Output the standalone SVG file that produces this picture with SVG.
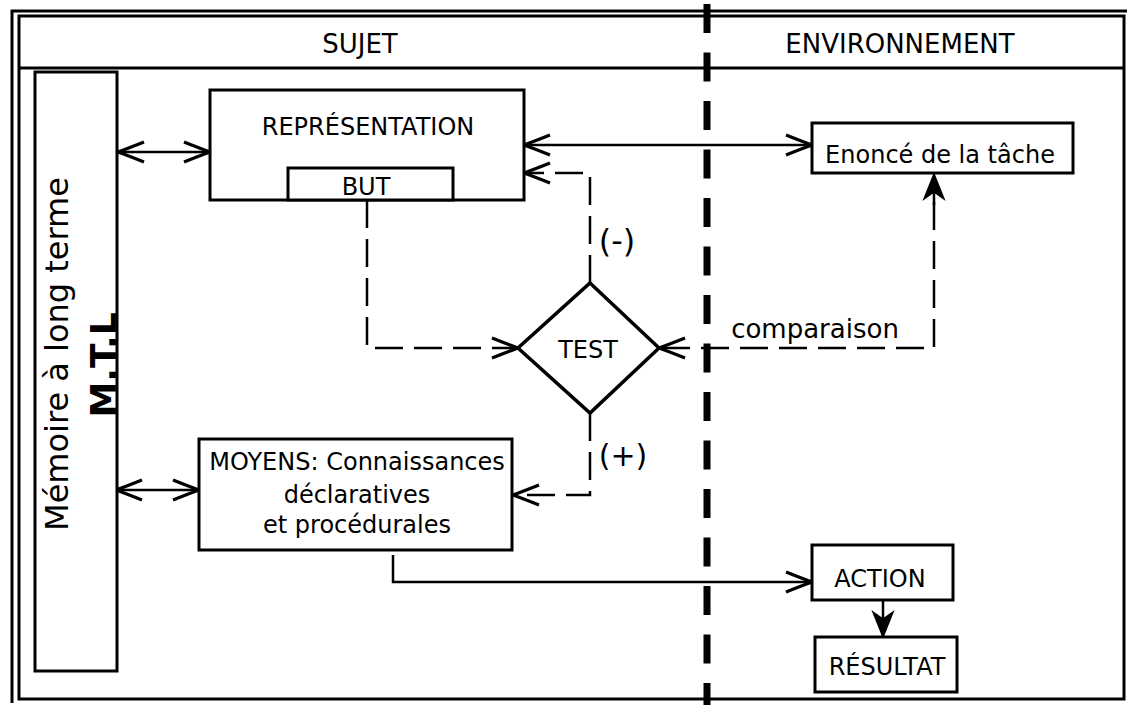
<svg xmlns="http://www.w3.org/2000/svg" width="1129" height="705" viewBox="0 0 1129 705">
  <style>
    text { font-family: "DejaVu Sans", "Liberation Sans", sans-serif; fill: #000; }
    .box { fill: #fff; stroke: #000; stroke-width: 3; }
    .frame { fill: none; stroke: #000; stroke-width: 3; }
    .solid { fill: none; stroke: #000; stroke-width: 2.5; }
    .dash { fill: none; stroke: #000; stroke-width: 2.5; stroke-dasharray: 28 11; }
    .lbl { font-size: 24px; text-anchor: middle; }
  </style>
  <defs>
    <marker id="open" markerUnits="userSpaceOnUse" markerWidth="32" markerHeight="26" viewBox="0 0 32 26" refX="29" refY="13" orient="auto-start-reverse">
      <path d="M3,3 Q18,9 29,13 Q18,17 3,23" fill="none" stroke="#000" stroke-width="3.2" stroke-dasharray="none"/>
    </marker>
    <marker id="solidhead" markerUnits="userSpaceOnUse" markerWidth="32" markerHeight="26" viewBox="0 0 32 26" refX="29" refY="13" orient="auto">
      <path d="M29,13 L4,3 L11,13 L4,23 Z" fill="#000" stroke="#000" stroke-width="1.5" stroke-dasharray="none"/>
    </marker>
  </defs>

  <!-- frame -->
  <g id="frame">
    <path class="frame" d="M12,703 L12,11 L1127,11" stroke-width="2.5"/>
    <rect class="frame" x="19" y="16" width="1105" height="683"/>
    <line class="frame" x1="19" y1="68" x2="1124" y2="68"/>
    <text x="360" y="53" font-size="26" text-anchor="middle">SUJET</text>
    <text x="900" y="53" font-size="26" text-anchor="middle">ENVIRONNEMENT</text>
  </g>

  <!-- divider -->
  <line id="divider" x1="707" y1="4" x2="707" y2="705" stroke="#000" stroke-width="7" stroke-dasharray="29 19.5"/>

  <!-- connectors -->
  <g id="connectors">
    <line class="solid" x1="118" y1="152" x2="210" y2="152" marker-start="url(#open)" marker-end="url(#open)"/>
    <line class="solid" x1="524" y1="145" x2="812" y2="145" marker-start="url(#open)" marker-end="url(#open)"/>
    <line class="solid" x1="116" y1="490" x2="199" y2="490" marker-start="url(#open)" marker-end="url(#open)"/>
    <path class="dash" d="M590,283 L590,173 L524,173" marker-end="url(#open)"/>
    <path class="dash" d="M367,200 L367,348 L518,348" marker-end="url(#open)"/>
    <path class="dash" d="M590,413 L590,495 L513,495" marker-end="url(#open)"/>
    <path class="dash" d="M934,202 L934,348 L659,348" marker-end="url(#open)"/>
    <line class="dash" x1="934" y1="205" x2="934" y2="174" marker-end="url(#solidhead)"/>
    <path class="solid" d="M393,555 L393,582 L812,582" marker-end="url(#open)"/>
    <line class="solid" x1="883" y1="600" x2="883" y2="637" marker-end="url(#solidhead)"/>
  </g>

  <!-- nodes -->
  <g id="memoire">
    <rect class="box" x="35" y="72" width="82" height="599"/>
    <text transform="translate(68,354) rotate(-90)" font-size="32" text-anchor="middle">Mémoire à long terme</text>
    <text transform="translate(116,365) rotate(-90)" font-size="36" font-weight="bold" text-anchor="middle">M.T.L</text>
  </g>

  <g id="representation">
    <rect class="box" x="210" y="90" width="314" height="110"/>
    <text class="lbl" x="368" y="135" font-size="23">REPRÉSENTATION</text>
  </g>

  <g id="but">
    <rect class="box" x="288" y="168" width="165" height="32"/>
    <text class="lbl" x="366" y="195" font-size="23">BUT</text>
  </g>

  <g id="enonce">
    <rect class="box" x="812" y="123" width="261" height="50"/>
    <text class="lbl" x="940" y="163" font-size="27">Enoncé de la tâche</text>
  </g>

  <g id="test">
    <polygon points="590,283 659,348 590,413 518,348" fill="#fff" stroke="#000" stroke-width="3.5"/>
    <text class="lbl" x="588" y="358">TEST</text>
  </g>

  <g id="labels">
    <text x="617" y="252" font-size="32" text-anchor="middle">(-)</text>
    <text x="623" y="466" font-size="30" text-anchor="middle">(+)</text>
    <text x="815" y="338" font-size="26" text-anchor="middle">comparaison</text>
  </g>

  <g id="moyens">
    <rect class="box" x="199" y="439" width="313" height="111"/>
    <text class="lbl" x="357" y="470">MOYENS: Connaissances</text>
    <text class="lbl" x="357" y="503">déclaratives</text>
    <text class="lbl" x="357" y="533">et procédurales</text>
  </g>

  <g id="action">
    <rect class="box" x="812" y="545" width="141" height="55"/>
    <text class="lbl" x="880" y="587">ACTION</text>
  </g>

  <g id="resultat">
    <rect class="box" x="815" y="637" width="142" height="55"/>
    <text class="lbl" x="887" y="675" font-size="26">RÉSULTAT</text>
  </g>
</svg>
